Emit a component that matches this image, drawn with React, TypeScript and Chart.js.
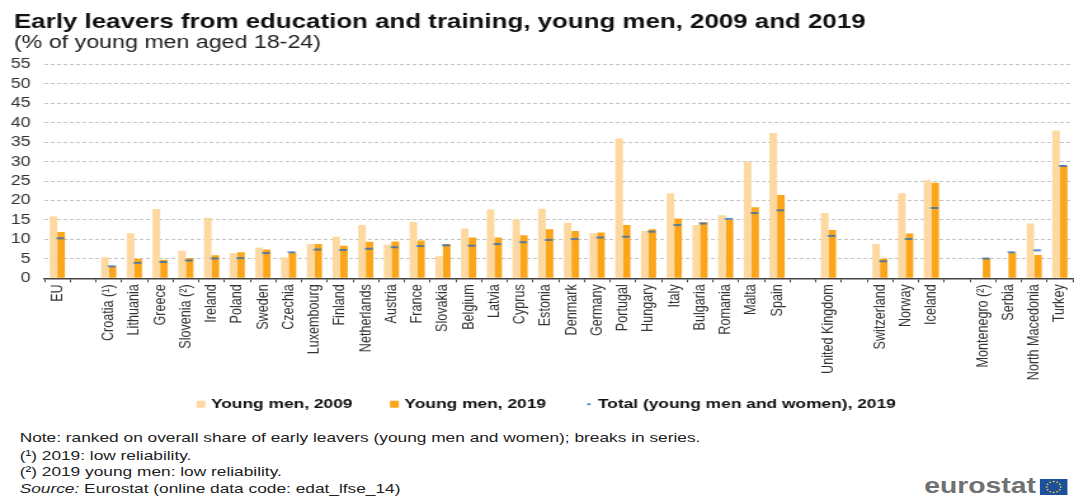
import React, { useEffect, useRef } from "react";
import { Chart, registerables } from "chart.js";

Chart.register(...registerables);

const categories = ["EU", "", "Croatia (¹)", "Lithuania", "Greece", "Slovenia (²)", "Ireland", "Poland", "Sweden", "Czechia", "Luxembourg", "Finland", "Netherlands", "Austria", "France", "Slovakia", "Belgium", "Latvia", "Cyprus", "Estonia", "Denmark", "Germany", "Portugal", "Hungary", "Italy", "Bulgaria", "Romania", "Malta", "Spain", "", "United Kingdom", "", "Switzerland", "Norway", "Iceland", "", "Montenegro (²)", "Serbia", "North Macedonia", "Turkey"];
const men2009 = [15.9, null, 5.4, 11.6, 17.8, 7.1, 15.6, 6.5, 7.9, 5.4, 8.8, 10.7, 13.7, 8.6, 14.5, 5.7, 12.8, 17.7, 15.1, 17.9, 14.3, 11.6, 36, 12.2, 21.9, 13.7, 16.2, 30, 37.4, null, 16.8, null, 8.8, 21.9, 25.2, null, null, null, 14.1, 38];
const men2019 = [11.9, null, 3.1, 5.0, 4.8, 5.2, 5.9, 6.7, 7.4, 6.5, 8.8, 8.4, 9.4, 9.5, 9.7, 8.8, 10.5, 10.5, 11.1, 12.6, 12.2, 11.8, 13.7, 12.6, 15.4, 14.4, 15.0, 18.3, 21.4, null, 12.4, null, 5.0, 11.5, 24.6, null, 5.1, 6.6, 6.0, 29];
const total2019 = [10.3, null, 3.1, 4.0, 4.2, 4.6, 5.1, 5.2, 6.5, 6.7, 7.4, 7.3, 7.6, 8.0, 8.3, 8.5, 8.4, 8.8, 9.3, 9.9, 10.1, 10.5, 10.7, 12.0, 13.7, 14.1, 15.3, 16.8, 17.5, null, 10.9, null, 4.4, 10.1, 18.1, null, 5.1, 6.7, 7.2, 28.9];
const seriesNames = ["Young men, 2009", "Young men, 2019", "Total (young men and women), 2019"];
const titleText = "Early leavers from education and training, young men, 2009 and 2019";
const subtitleText = "(% of young men aged 18-24)";
const notes = [
  "Note: ranked on overall share of early leavers (young men and women); breaks in series.",
  "(¹) 2019: low reliability.",
  "(²) 2019 young men: low reliability.",
];
const sourceText = " Eurostat (online data code: edat_lfse_14)";

const FONT = '"Liberation Sans", Arial, sans-serif';
const NATIVE_W = 846;
const CANVAS_W = 850;
const STRETCH = 1074 / NATIVE_W;
const C2009 = "#FDD9A1";
const C2019 = "#FBA51A";
const CTOTAL = "#2D6FB3";

function dashImage(width: number, from: number, length: number) {
  const c = document.createElement("canvas");
  c.width = width;
  c.height = 4;
  const x = c.getContext("2d")!;
  x.fillStyle = CTOTAL;
  x.fillRect(from, 1.2, length, 1.6);
  return c;
}

const shiftLegend = {
  id: "shiftLegend",
  afterLayout(chart: any) {
    if (chart.legend) {
      chart.legend.left += 1.8;
      chart.legend.right += 1.8;
    }
  },
};

const stars = Array.from({ length: 12 }, (_, i) => i);

export default function App() {
  const ref = useRef<HTMLCanvasElement>(null);
  useEffect(() => {
    const marker = dashImage(14, 6.4, 6);
    const legendDash = dashImage(8, 3.5, 2.6);
    const chart = new Chart(ref.current!, {
      type: "bar",
      data: {
        labels: categories,
        datasets: [
          { label: seriesNames[0], data: men2009, backgroundColor: C2009, order: 1 },
          { label: seriesNames[1], data: men2019, backgroundColor: C2019, order: 1 },
          { type: "line", label: seriesNames[2], data: total2019, showLine: false, pointStyle: marker, pointRadius: 3, borderColor: CTOTAL, backgroundColor: CTOTAL, order: 0 },
        ] as any,
      },
      plugins: [shiftLegend],
      options: {
        responsive: false,
        animation: false,
        layout: { padding: { left: 11, right: 1.6, top: 12, bottom: 4 } },
        datasets: { bar: { categoryPercentage: 0.59, barPercentage: 1 } },
        scales: {
          x: {
            grid: { drawOnChartArea: false, drawTicks: true, tickLength: 4, offset: true, color: "#444" },
            border: { color: "#444", width: 1.5 },
            ticks: { autoSkip: false, minRotation: 90, maxRotation: 90, color: "#333", font: { family: FONT, size: 12.6 }, padding: 2 },
            afterFit: (s: any) => {
              s.height = 87;
              s.paddingLeft = 0;
              s.paddingRight = 0;
              s._computeLabelArea = () => undefined;
            },
          },
          y: {
            min: 0,
            max: 55,
            grid: { color: (c: any) => (c.tick.value === 0 ? "transparent" : "#c4c4c4"), drawTicks: false },
            border: { display: false, dash: [3, 2] },
            ticks: { stepSize: 5, autoSkip: false, color: "#333", font: { family: FONT, size: 14 }, padding: 11 },
            afterFit: (s: any) => {
              s.width = 24;
              s._computeLabelArea = () => undefined;
            },
          },
        },
        plugins: {
          title: { display: true, text: titleText, align: "start", color: "#111", font: { family: FONT, size: 20.4, weight: "bold", lineHeight: 1 }, padding: { top: 0, bottom: 0 } },
          subtitle: { display: true, text: subtitleText, align: "start", color: "#222", font: { family: FONT, size: 18.3, weight: "normal", lineHeight: 1.1 }, padding: { top: 0, bottom: 12 } },
          tooltip: { enabled: false },
          legend: {
            position: "bottom",
            labels: {
              usePointStyle: true,
              boxHeight: 7,
              boxWidth: 2,
              padding: 32,
              color: "#111",
              font: { family: FONT, size: 13.7, weight: "bold" },
              generateLabels: () => [
                { text: seriesNames[0], fillStyle: C2009, strokeStyle: C2009, lineWidth: 0, pointStyle: "rect", fontColor: "#111" },
                { text: seriesNames[1], fillStyle: C2019, strokeStyle: C2019, lineWidth: 0, pointStyle: "rect", fontColor: "#111" },
                { text: seriesNames[2], fillStyle: CTOTAL, strokeStyle: CTOTAL, lineWidth: 0, pointStyle: legendDash, fontColor: "#111" },
              ],
            },
          },
        },
      } as any,
    });
    return () => chart.destroy();
  }, []);

  const noteStyle: React.CSSProperties = { position: "absolute", left: 15.5, fontFamily: FONT, fontSize: 13.64, color: "#222", whiteSpace: "nowrap", lineHeight: "16px" };
  return (
    <div style={{ position: "absolute", left: 0, top: 0, width: NATIVE_W, height: 497, overflow: "hidden", transform: `scaleX(${STRETCH})`, transformOrigin: "0 0", background: "#fff" }}>
      <canvas ref={ref} width={CANVAS_W} height={425} style={{ display: "block" }} />
      <div style={{ ...noteStyle, top: 430 }}>{notes[0]}</div>
      <div style={{ ...noteStyle, top: 448 }}>{notes[1]}</div>
      <div style={{ ...noteStyle, top: 464 }}>{notes[2]}</div>
      <div style={{ ...noteStyle, top: 481 }}><i>Source:</i>{sourceText}</div>
      <div style={{ position: "absolute", left: 728, top: 474, fontFamily: FONT, fontSize: 22.3, fontWeight: "bold", color: "#707070", lineHeight: "24px" }}>eurostat</div>
      <svg style={{ position: "absolute", left: 819, top: 479 }} width={22} height={16} viewBox="0 0 22 16">
        <rect width={22} height={16} fill="#1C4F9C" />
        {stars.map((i) => (
          <circle key={i} cx={11 + 5.5 * Math.cos((i * Math.PI) / 6)} cy={8 + 5.5 * Math.sin((i * Math.PI) / 6)} r={0.8} fill="#FFD617" />
        ))}
      </svg>
    </div>
  );
}
